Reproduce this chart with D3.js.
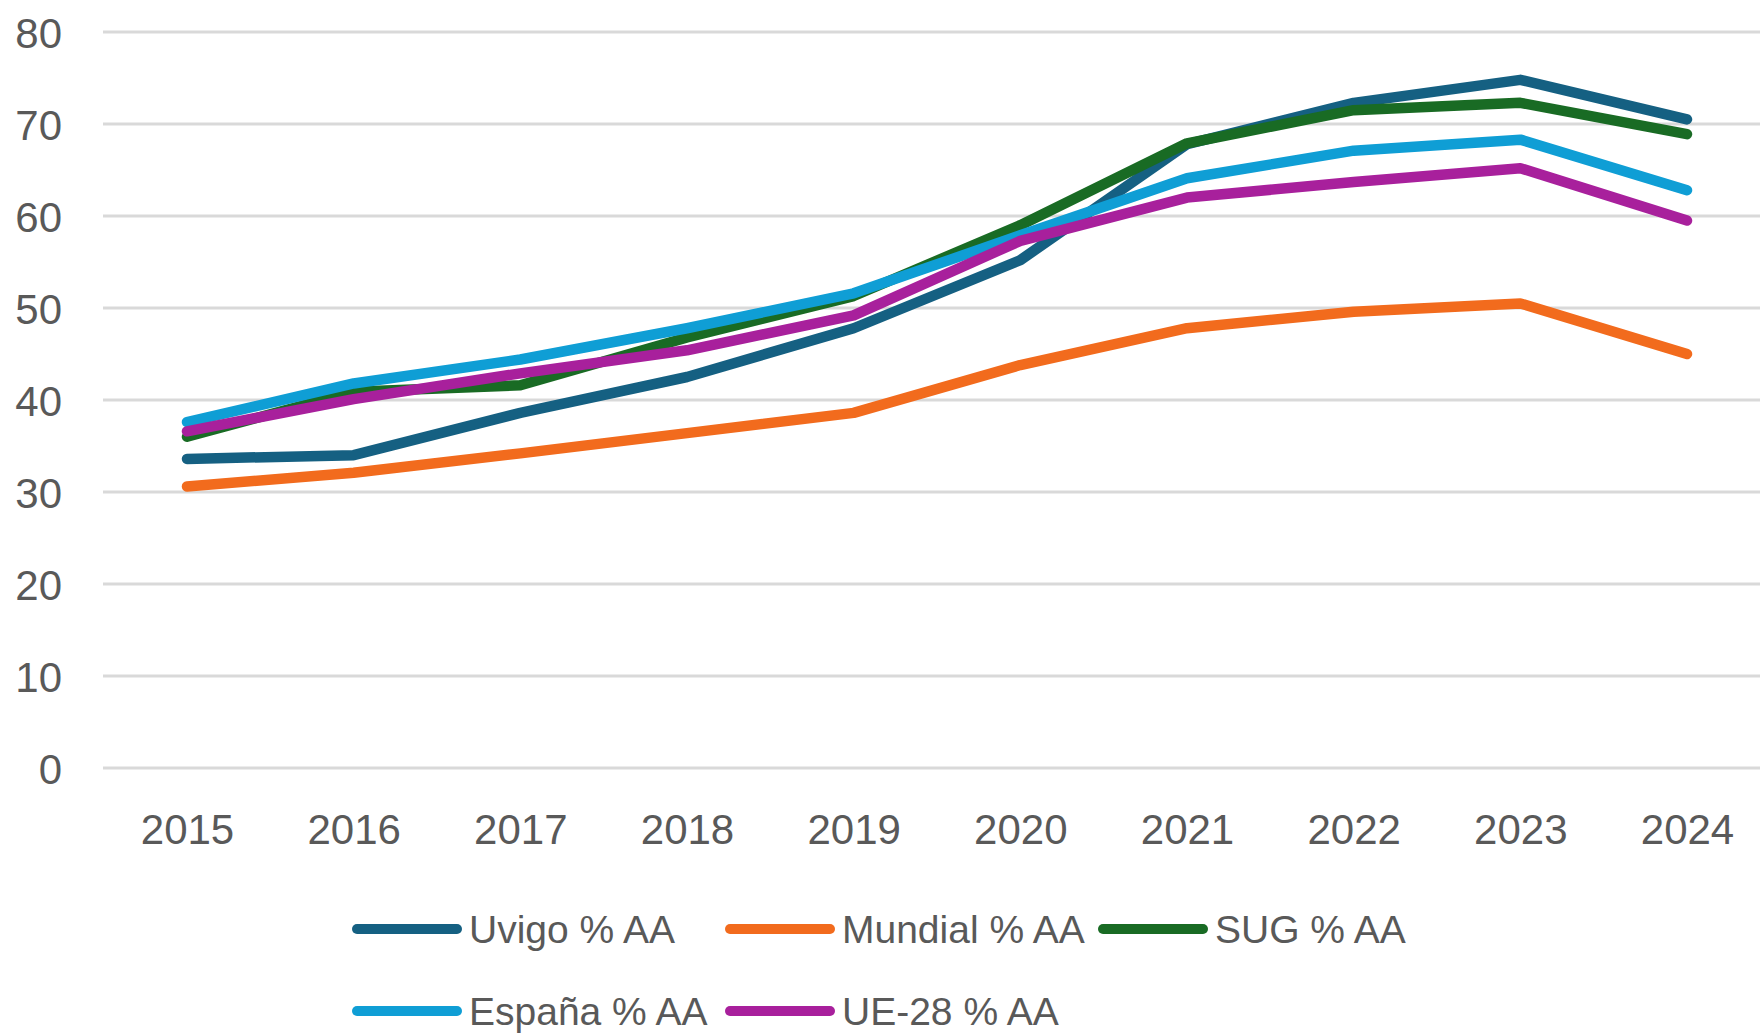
<!DOCTYPE html>
<html>
<head>
<meta charset="utf-8">
<script src="https://cdn.jsdelivr.net/npm/d3@7"></script>
<style>
html,body{margin:0;padding:0;background:#fff;}
svg{display:block;}
text{font-family:"Liberation Sans",Arial,sans-serif;fill:#595959;}
</style>
</head>
<body>
<svg id="chart" width="1760" height="1036"></svg>
<script>
const years = ["2015","2016","2017","2018","2019","2020","2021","2022","2023","2024"];
const uvigo   = [33.6, 34.0, 38.6, 42.5, 47.8, 55.2, 67.8, 72.3, 74.8, 70.5];
const mundial = [30.6, 32.1, 34.2, 36.4, 38.6, 43.8, 47.8, 49.6, 50.5, 45.0];
const sug     = [36.0, 40.9, 41.6, 46.8, 51.3, 59.0, 67.9, 71.5, 72.3, 68.9];
const espana  = [37.6, 41.8, 44.4, 47.8, 51.6, 57.9, 64.1, 67.1, 68.3, 62.8];
const ue28    = [36.6, 40.1, 42.9, 45.4, 49.2, 57.3, 62.0, 63.7, 65.2, 59.5];
const seriesNames = ["Uvigo % AA","Mundial % AA","SUG % AA","España % AA","UE-28 % AA"];
const yTicks = [0,10,20,30,40,50,60,70,80];

const colors = ["#156082","#F26B1D","#196B24","#0F9ED5","#A8209C"];
const seriesData = [uvigo, mundial, sug, espana, ue28];

const svg = d3.select("#chart");
const x = d3.scalePoint().domain(years).range([187, 1687]);
const y = d3.scaleLinear().domain([0, 80]).range([768, 32]);

// y axis labels
const yAxis = d3.axisLeft(y).tickValues(yTicks).tickSize(0).tickPadding(0).tickFormat(d3.format("d"));
const gy = svg.append("g").attr("transform","translate(62,0)").call(yAxis);
gy.select(".domain").remove();
gy.selectAll("text").attr("font-size",42).attr("fill","#595959").attr("dy","0.36em")
  .style("font-family","'Liberation Sans',Arial,sans-serif");

// gridlines
svg.append("g").selectAll("line").data(yTicks).join("line")
  .attr("x1",103).attr("x2",1760)
  .attr("y1",d=>y(d)).attr("y2",d=>y(d))
  .attr("stroke","#D9D9D9").attr("stroke-width",3);

// x axis labels
const xAxis = d3.axisBottom(x).tickSize(0).tickPadding(0);
const gx = svg.append("g").attr("transform","translate(0,806)").call(xAxis);
gx.select(".domain").remove();
gx.selectAll("text").attr("font-size",42).attr("fill","#595959").attr("dy","0.9em")
  .style("font-family","'Liberation Sans',Arial,sans-serif");

// lines
const line = d3.line().x((d,i)=>x(years[i])).y(d=>y(d));
svg.append("g").selectAll("path").data(seriesData).join("path")
  .attr("d", d=>line(d))
  .attr("fill","none")
  .attr("stroke",(d,i)=>colors[i])
  .attr("stroke-width",10.5)
  .attr("stroke-linecap","round")
  .attr("stroke-linejoin","round");

// legend
const legendPos = [
  {lx:357, ty:929},{lx:730, ty:929},{lx:1103, ty:929},
  {lx:357, ty:1011},{lx:730, ty:1011}
];
const lg = svg.append("g").selectAll("g").data(seriesNames).join("g")
  .attr("transform",(d,i)=>`translate(${legendPos[i].lx},${legendPos[i].ty})`);
lg.append("line").attr("x1",0).attr("x2",100).attr("y1",0).attr("y2",0)
  .attr("stroke",(d,i)=>colors[i]).attr("stroke-width",10).attr("stroke-linecap","round");
lg.append("text").attr("x",112).attr("y",0).attr("dy","0.36em")
  .attr("font-size",39).text(d=>d);
</script>
</body>
</html>
